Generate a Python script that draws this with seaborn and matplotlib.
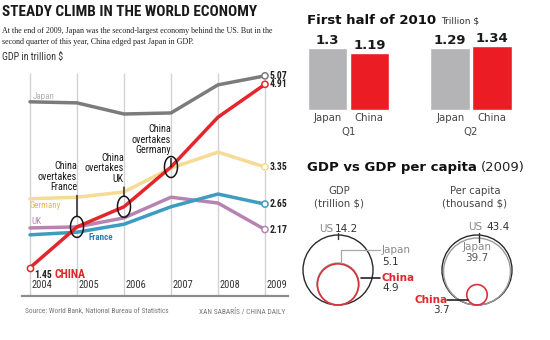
import os
import matplotlib
matplotlib.use("Agg")
import numpy as np
import pandas as pd
import matplotlib.pyplot as plt
import seaborn as sns
from matplotlib import font_manager as fm
from matplotlib.patches import Circle
from matplotlib.path import Path
from matplotlib.transforms import blended_transform_factory

# ---------------- data ----------------
years = [2004, 2005, 2006, 2007, 2008, 2009]
japan = [4.58, 4.56, 4.35, 4.37, 4.90, 5.07]
china = [1.45, 2.22, 2.60, 3.35, 4.29, 4.91]
germany = [2.75, 2.78, 2.88, 3.33, 3.63, 3.35]
uk = [2.20, 2.22, 2.39, 2.78, 2.67, 2.17]
france = [2.07, 2.12, 2.27, 2.60, 2.84, 2.65]

overtakes = ["France", "UK", "Germany"]
overtake_years = [2005, 2006, 2007]

quarters = ["Q1", "Q2"]
q_japan = [1.3, 1.29]
q_china = [1.19, 1.34]

compare_countries = ["US", "Japan", "China"]
gdp_2009 = [14.2, 5.1, 4.9]              # trillion $
gdp_per_capita_2009 = [43.4, 39.7, 3.7]  # thousand $

# ---------------- styling ----------------
sns.set_style("white")
plt.rcParams["font.family"] = ["DejaVu Sans"]

# pick the narrowest sans available for the newspaper-style labels
_files = [os.path.basename(f.fname).lower().replace("-", "").replace(" ", "")
          for f in fm.fontManager.ttflist]
if any("liberationsansnarrow" in f for f in _files):
    NARROW, STRETCH, WIDTH = "Liberation Sans Narrow", "normal", 1.0
elif any("robotocondensed" in f for f in _files):
    NARROW, STRETCH, WIDTH = "Roboto Condensed", "normal", 1.0
elif any("dejavusanscondensed" in f for f in _files):
    NARROW, STRETCH, WIDTH = "DejaVu Sans", "condensed", 1.18
else:
    NARROW, STRETCH, WIDTH = "Liberation Sans", "normal", 1.2


def cf(size, **kw):
    d = dict(family=[NARROW, "DejaVu Sans"], fontstretch=STRETCH,
             fontsize=size / WIDTH)
    d.update(kw)
    return d


SERIF = ["Liberation Serif", "DejaVu Serif"]

colors = {"Japan": "#7b7b7b", "China": "#e3262b", "Germany": "#f5db93",
          "UK": "#b784b1", "France": "#3d9cc2"}
label_colors = {"Japan": "#b2b2b2", "Germany": "#e2bd55", "UK": "#bd86b6",
                "France": "#2c7db3"}

W, H = 550, 340
fig = plt.figure(figsize=(W / 100, H / 100), dpi=100)


def fx(px):
    return px / W


def fy(py):
    return 1 - py / H


# ---------------- headline ----------------
fig.text(fx(2), fy(12), "STEADY CLIMB IN THE WORLD ECONOMY",
         **cf(11, weight="bold", color="#1a1a1a", va="center"))
fig.text(fx(2), fy(31), "At the end of 2009, Japan was the second-largest economy "
         "behind the US. But in the", family=SERIF, fontsize=5.8, color="#222",
         va="center")
fig.text(fx(2), fy(42), "second quarter of this year, China edged past Japan in GDP.",
         family=SERIF, fontsize=5.8, color="#222", va="center")
fig.text(fx(2), fy(57), "GDP in trillion $", **cf(7.2, color="#333", va="center"))

# ---------------- line chart ----------------
ax = fig.add_axes([fx(22), fy(296), (288 - 22) / W, (296 - 60) / H])
series = {"Germany": germany, "UK": uk, "France": france, "Japan": japan,
          "China": china}
df = pd.DataFrame([{"year": y, "country": c, "gdp": v}
                   for c, vals in series.items() for y, v in zip(years, vals)])

ax.set_xlim(2003.83, 2009.49)
ax.set_ylim(0.916, 5.369)
ax.vlines(years, 0.916, max(japan) + 0.05, color="#d2d2d2", lw=1, zorder=0)

sns.lineplot(data=df, x="year", y="gdp", hue="country",
             hue_order=list(series.keys()), palette=colors, linewidth=2.5,
             legend=False, ax=ax, zorder=3)
for ln in ax.lines:
    ln.set_solid_capstyle("round")
    ln.set_solid_joinstyle("round")

last = df[df["year"] == years[-1]]
ax.scatter(last["year"], last["gdp"], s=20, facecolors="white",
           edgecolors=[colors[c] for c in last["country"]], linewidths=1.1,
           zorder=5, clip_on=False)
ax.scatter([years[0]], [china[0]], s=20, facecolors="white",
           edgecolors=colors["China"], linewidths=1.1, zorder=5, clip_on=False)

for c, vals in series.items():
    ax.annotate(f"{vals[-1]:.2f}", (years[-1], vals[-1]), xytext=(3.5, 0),
                textcoords="offset points",
                **cf(7, va="center", ha="left", weight="bold", color="#222"))

# series names
ax.annotate("Japan", (years[0], japan[0]), xytext=(2, 4), textcoords="offset points",
            **cf(6.5, va="center", color=label_colors["Japan"]))
ax.annotate("Germany", (years[0], germany[0]), xytext=(0, -4.5),
            textcoords="offset points",
            **cf(6.5, va="center", color=label_colors["Germany"]))
ax.annotate("UK", (years[0], uk[0]), xytext=(1, 4.5), textcoords="offset points",
            **cf(6.5, va="center", color=label_colors["UK"]))
ax.annotate("France", (2005.25, france[1] + 0.25 * (france[2] - france[1])),
            xytext=(0, -5), textcoords="offset points",
            **cf(6.5, va="center", weight="bold", color=label_colors["France"]))
ax.annotate(f"{china[0]:.2f}", (years[0], china[0]), xytext=(3, -5),
            textcoords="offset points",
            **cf(7, va="center", weight="bold", color="#222"))
ax.annotate("CHINA", (years[0], china[0]), xytext=(18, -5),
            textcoords="offset points",
            **cf(8.5, va="center", weight="bold", color=colors["China"]))

# "China overtakes ..." call-outs
theta = np.linspace(0, 2 * np.pi, 80)
ellipse = Path(np.column_stack([0.62 * np.cos(theta), np.sin(theta)]))
ov_vals = [china[years.index(y)] for y in overtake_years]
ax.scatter(overtake_years, ov_vals, marker=ellipse, s=230, facecolors="none",
           edgecolors="#151515", linewidths=1.1, zorder=6)
rises = [25, 16.5, 8.5]
for name, yr, val, rise in zip(overtakes, overtake_years, ov_vals, rises):
    ax.annotate(f"China\novertakes\n{name}", (yr, val), xytext=(0, rise),
                textcoords="offset points",
                arrowprops=dict(arrowstyle="-", color="#151515", lw=1,
                                relpos=(1.0, 0.0), shrinkA=0, shrinkB=7.6),
                **cf(7.3, ha="right", va="bottom", multialignment="right",
                     color="#1a1a1a", linespacing=1.05))

# year labels and baseline
tr = blended_transform_factory(ax.transData, ax.transAxes)
for y in years:
    ax.text(y + 0.04, 0.045, str(y), transform=tr,
            **cf(7.5, va="center", ha="left", color="#333"))
for s in ["top", "left", "right"]:
    ax.spines[s].set_visible(False)
ax.spines["bottom"].set_color("#8c8c8c")
ax.spines["bottom"].set_linewidth(1.6)
ax.set_xticks([])
ax.set_yticks([])
ax.set(xlabel="", ylabel="")

fig.text(fx(25), fy(312), "Source: World Bank, National Bureau of Statistics",
         **cf(5.3, color="#777", va="center"))
fig.text(fx(285), fy(312), "XAN SABARÍS / CHINA DAILY",
         **cf(5.3, color="#777", va="center", ha="right"))

# ---------------- first half of 2010 bars ----------------
t1 = fig.text(fx(307), fy(20), "First half of 2010", weight="bold",
              fontsize=9.5, color="#111", va="center")
fig.canvas.draw()
bb = t1.get_window_extent(fig.canvas.get_renderer())
fig.text((bb.x1 + 5) / W, fy(21), "Trillion $", fontsize=6.5, color="#333",
         va="center")

axb = fig.add_axes([fx(300), fy(110), 220 / W, 80 / H])
dq = pd.DataFrame({"quarter": quarters * 2,
                   "country": ["Japan"] * 2 + ["China"] * 2,
                   "gdp": q_japan + q_china})
sns.barplot(data=dq, x="quarter", y="gdp", hue="country",
            hue_order=["Japan", "China"],
            palette={"Japan": "#b4b4b6", "China": "#ec1c24"}, saturation=1,
            width=0.68, gap=0.05, errorbar=None, legend=False, ax=axb)
axb.set_xlim(-0.396, 1.4)
axb.set_ylim(0, 1.677)
axb.axis("off")
for cont, name in zip(axb.containers, ["Japan", "China"]):
    axb.bar_label(cont, fmt="%g", padding=1, fontsize=9.5, weight="bold",
                  color="#1a1a1a")
    for p in cont:
        axb.annotate(name, (p.get_x() + p.get_width() / 2, 0), xytext=(0, -5.5),
                     textcoords="offset points", ha="center", va="center",
                     fontsize=7.3, color="#444", annotation_clip=False)
for i, q in enumerate(quarters):
    axb.annotate(q, (i, 0), xytext=(0, -16), textcoords="offset points",
                 ha="center", va="center", fontsize=7.3, color="#444",
                 annotation_clip=False)

# ---------------- GDP vs GDP per capita circles ----------------
t2 = fig.text(fx(307), fy(168), "GDP vs GDP per capita", weight="bold",
              fontsize=9.5, color="#111", va="center")
fig.canvas.draw()
bb = t2.get_window_extent(fig.canvas.get_renderer())
fig.text((bb.x1 + 4) / W, fy(168), "(2009)", fontsize=9.5, color="#222",
         va="center")
fig.text(fx(339), fy(191), "GDP", fontsize=7.3, color="#444", ha="center",
         va="center")
fig.text(fx(339), fy(203), "(trillion $)", fontsize=7.3, color="#444",
         ha="center", va="center")
fig.text(fx(475), fy(191), "Per capita", fontsize=7.3, color="#444",
         ha="center", va="center")
fig.text(fx(475), fy(203), "(thousand $)", fontsize=7.3, color="#444",
         ha="center", va="center")

axc = fig.add_axes([fx(290), fy(322), 260 / W, 107 / H])
axc.set_xlim(290, 550)
axc.set_ylim(322, 215)
axc.axis("off")

circle_style = {"US": ("#2a2a2a", 1.0), "Japan": ("#9a9a9a", 1.0),
                "China": ("#d8323c", 1.2)}
base_y = 305
r_max = 35
groups = [(338, gdp_2009), (477, gdp_per_capita_2009)]
radii = {}
for cx, vals in groups:
    for name, v in zip(compare_countries, vals):
        r = r_max * np.sqrt(v / max(vals))
        radii[(cx, name)] = r
        ec, lw = circle_style[name]
        axc.add_patch(Circle((cx, base_y - r), r, fill=False, ec=ec, lw=lw))

lab = dict(fontsize=7.5, va="center")
# GDP group labels
cx = 338
axc.text(cx - 5, 229, "US", color="#8a8a8a", ha="right", **lab)
axc.text(cx - 3, 229, f"{gdp_2009[0]:g}", color="#333", ha="left", **lab)
axc.plot([cx, cx], [233, 239], color="#333", lw=1)
jtop = base_y - 2 * radii[(cx, "Japan")]
axc.plot([cx + 3, cx + 3, cx + 42], [jtop, 250, 250], color="#a8a8a8", lw=0.9)
axc.text(cx + 44, 250, "Japan", color="#8a8a8a", ha="left", **lab)
axc.text(cx + 44, 262, f"{gdp_2009[1]:g}", color="#333", ha="left", **lab)
axc.plot([cx + 23, cx + 42], [278, 278], color="#222", lw=1.2)
axc.text(cx + 44, 278, "China", color=colors["China"], weight="bold",
         ha="left", **lab)
axc.text(cx + 44, 288, f"{gdp_2009[2]:g}", color="#333", ha="left", **lab)

# per capita group labels
cx = 477
axc.text(cx + 5, 227, "US", color="#8a8a8a", ha="right", **lab)
axc.text(cx + 9, 227, f"{gdp_per_capita_2009[0]:g}", color="#333", ha="left", **lab)
axc.plot([cx + 2, cx + 2], [233, 242], color="#333", lw=1)
axc.text(cx, 247, "Japan", color="#8a8a8a", ha="center", **lab)
axc.text(cx, 258, f"{gdp_per_capita_2009[1]:g}", color="#555", ha="center", **lab)
axc.plot([cx - 30, cx - 9], [300, 300], color="#222", lw=1.2)
axc.text(cx - 29, 300, "China", color=colors["China"], weight="bold",
         ha="right", **lab)
axc.text(cx - 36, 310, f"{gdp_per_capita_2009[2]:g}", color="#333",
         ha="center", **lab)

fig.savefig("out.png", dpi=100)
